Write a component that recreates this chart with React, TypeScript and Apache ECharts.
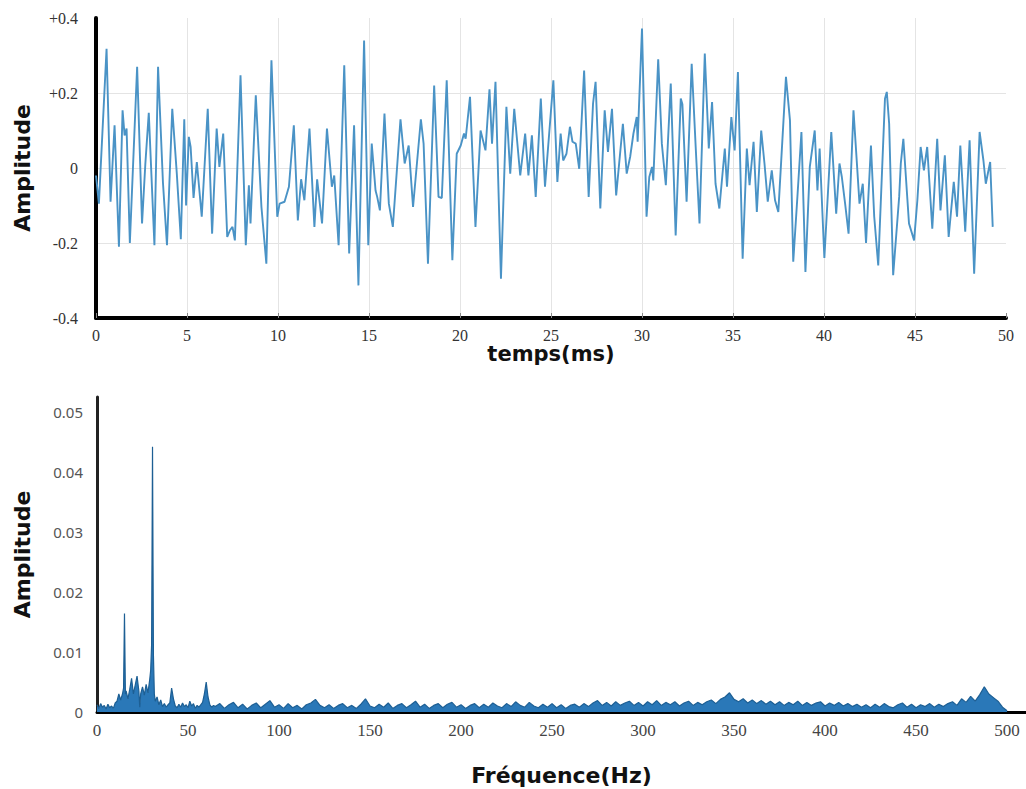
import React, { useEffect, useRef } from "react";
import * as echarts from "echarts";

// ---- Time signal (top panel) ----
const timeMs = [
  0, 0.16, 0.58, 0.8, 1.02, 1.26, 1.46, 1.57, 1.68, 1.86, 2.26, 2.53, 2.71, 2.9, 3.21, 3.41, 3.68, 3.9, 4.19, 4.44,
  4.66, 4.85, 4.95, 5.1, 5.2, 5.36, 5.54, 5.81, 6.14, 6.38, 6.63, 6.78, 6.99, 7.21, 7.36, 7.5, 7.63, 7.94, 8.23, 8.4,
  8.49, 8.78, 9.09, 9.36, 9.64, 9.96,
  10.09, 10.36, 10.6, 10.87, 11.09, 11.27, 11.45, 11.73, 12.0, 12.15, 12.42, 12.69, 12.96, 13.09, 13.33, 13.64, 13.91,
  14.18, 14.42, 14.73, 14.96, 15.15, 15.36, 15.45, 15.6, 15.85, 16.09, 16.31, 16.73, 16.96, 17.18, 17.42, 17.85, 18.0,
  18.24, 18.58, 18.82, 19.0, 19.27, 19.58, 19.82, 20.04,
  20.22, 20.31, 20.55, 20.85, 21.13, 21.4, 21.62, 21.76, 21.95, 22.25, 22.55, 22.76, 22.98, 23.31, 23.58, 23.76, 23.95,
  24.16, 24.44, 24.67, 25.13, 25.35, 25.53, 25.67, 25.85, 26.04, 26.18, 26.36, 26.55, 26.82, 27.07, 27.31, 27.45, 27.71,
  27.95, 28.13, 28.35, 28.58, 28.95, 29.16, 29.35, 29.53, 29.71, 29.76, 30.0,
  30.25, 30.4, 30.55, 30.62, 30.89, 31.09, 31.31, 31.58, 31.85, 32.13, 32.22, 32.45, 32.73, 32.95, 33.16, 33.45, 33.67,
  33.85, 34.04, 34.25, 34.55, 34.67, 34.91, 35.09, 35.27, 35.53, 35.76, 35.91, 36.13, 36.31, 36.55, 36.73, 36.91, 37.13,
  37.31, 37.49, 37.91, 38.13, 38.31, 38.55, 38.76, 38.98, 39.22, 39.49, 39.64, 39.76, 40.02,
  40.4, 40.67, 40.85, 40.98, 41.16, 41.35, 41.62, 41.95, 42.13, 42.31, 42.58, 42.76, 42.98, 43.35, 43.45, 43.58, 43.8,
  44.13, 44.22, 44.36, 44.67, 44.95, 45.13, 45.31, 45.49, 45.67, 45.95, 46.22, 46.4, 46.64, 46.85, 47.13, 47.31, 47.49,
  47.76, 48.0, 48.25, 48.55, 48.76, 48.89, 49.13, 49.27,
];
const signal = [
  -0.02, -0.095, 0.318, -0.09, 0.114, -0.21, 0.154, 0.087, 0.105, -0.2, 0.27, -0.148, 0.01, 0.147, -0.206, 0.27, -0.04,
  -0.206, 0.158, -0.015, -0.19, 0.13, -0.1, 0.083, 0.056, -0.08, 0.016, -0.13, 0.158, -0.175, 0.105, 0.003, 0.092,
  -0.184, -0.166, -0.157, -0.193, 0.247, -0.206, -0.046, -0.148, 0.194, -0.104, -0.255, 0.287, -0.13,
  -0.095, -0.09, -0.05, 0.114, -0.14, -0.03, -0.086, 0.105, -0.157, -0.03, -0.148, 0.105, -0.05, -0.02, -0.206, 0.274,
  -0.228, 0.114, -0.313, 0.34, -0.206, 0.065, -0.06, -0.077, -0.113, 0.145, -0.095, -0.157, 0.13, 0.012, 0.06, -0.104,
  0.13, 0.065, -0.255, 0.22, -0.077, -0.08, 0.234, -0.246, 0.038, 0.06,
  0.092, 0.078, 0.19, -0.157, 0.1, 0.047, 0.21, 0.065, 0.23, -0.295, 0.163, -0.015, 0.158, -0.02, 0.092, -0.02, 0.087,
  -0.077, 0.185, -0.05, 0.234, -0.037, 0.092, 0.02, 0.038, 0.11, 0.07, 0.065, -0.002, 0.26, -0.077, 0.172, 0.23, -0.108,
  0.154, 0.043, 0.158, -0.073, 0.118, -0.015, 0.03, 0.092, 0.136, 0.07, 0.372,
  -0.13, -0.024, 0.003, -0.033, 0.29, 0.065, -0.046, 0.225, -0.18, 0.185, 0.17, -0.09, 0.278, 0.056, -0.148, 0.305,
  0.052, 0.176, -0.042, -0.108, 0.052, -0.05, 0.136, 0.047, 0.256, -0.242, 0.052, -0.046, 0.07, -0.117, 0.1, 0.012,
  -0.09, -0.006, -0.086, -0.117, 0.243, 0.127, -0.25, -0.068, 0.096, -0.277, 0.003, 0.1, -0.06, 0.052, -0.24,
  0.096, -0.122, 0.012, -0.024, -0.095, -0.175, 0.154, -0.095, -0.042, -0.2, 0.06, -0.13, -0.26, 0.185, 0.203, 0.118,
  -0.286, -0.077, 0.012, 0.078, -0.148, -0.193, -0.086, 0.056, -0.006, 0.056, -0.162, 0.078, -0.113, 0.034, -0.184,
  -0.037, -0.13, 0.06, -0.17, 0.074, -0.282, 0.096, 0.02, -0.042, 0.016, -0.157,
];
const timeTicks = ["0", "5", "10", "15", "20", "25", "30", "35", "40", "45", "50"];

// ---- Spectrum (bottom panel) ----
const specFreqLow = [
  0, 1, 2, 3, 4, 5, 6, 7, 8, 9, 10, 11, 12, 13, 14, 14.6, 15.1, 15.6, 16, 17, 18, 19, 20, 21, 22, 23, 23.5, 24, 25, 26,
  27, 28, 29, 29.5, 30, 30.5, 31, 31.5, 32, 33, 34, 35, 36, 37, 38, 39, 40, 41, 42, 43, 44, 45, 46, 47, 48, 49, 50, 51,
  52, 53, 54, 55, 56, 57, 58, 59, 60, 61, 62, 63, 64,
];
const specAmpLow = [
  0.0012, 0.0006, 0.0014, 0.0008, 0.0011, 0.0005, 0.0013, 0.0007, 0.001, 0.0006, 0.0015, 0.0018, 0.003, 0.002, 0.003,
  0.004, 0.0164, 0.003, 0.0035, 0.0022, 0.0038, 0.0056, 0.003, 0.0045, 0.006, 0.0035, 0.0008, 0.003, 0.0042, 0.0028,
  0.0046, 0.0032, 0.0055, 0.007, 0.0112, 0.0442, 0.0095, 0.003, 0.0018, 0.0025, 0.0012, 0.002, 0.0009, 0.0014, 0.0008,
  0.0012, 0.0015, 0.004, 0.0022, 0.001, 0.0007, 0.0013, 0.0008, 0.0015, 0.0009, 0.0012, 0.0007, 0.0018, 0.001, 0.0014,
  0.0006, 0.0011, 0.0008, 0.0012, 0.0016, 0.003, 0.005, 0.0025, 0.0012, 0.0008, 0.0011,
];
const specFreqHigh = [
  65, 67.5, 70, 72.5, 75, 77.5, 80, 82.5, 85, 87.5, 90, 92.5, 95, 97.5, 100, 102.5, 105, 107.5, 110, 112.5,
  115, 117.5, 120, 122.5, 125, 127.5, 130, 132.5, 135, 137.5, 140, 142.5, 145, 147.5, 150, 152.5, 155, 157.5, 160, 162.5,
  165, 167.5, 170, 172.5, 175, 177.5, 180, 182.5, 185, 187.5, 190, 192.5, 195, 197.5, 200, 202.5, 205, 207.5, 210, 212.5,
  215, 217.5, 220, 222.5, 225, 227.5, 230, 232.5, 235, 237.5, 240, 242.5, 245, 247.5, 250, 252.5, 255, 257.5, 260, 262.5,
  265, 267.5, 270, 272.5, 275, 277.5, 280, 282.5, 285, 287.5, 290, 292.5, 295, 297.5, 300, 302.5, 305, 307.5, 310, 312.5,
  315, 317.5, 320, 322.5, 325, 327.5, 330, 332.5, 335, 337.5, 340, 342.5, 345, 347.5, 350, 352.5, 355, 357.5, 360, 362.5,
  365, 367.5, 370, 372.5, 375, 377.5, 380, 382.5, 385, 387.5, 390, 392.5, 395, 397.5, 400, 402.5, 405, 407.5, 410, 412.5,
  415, 417.5, 420, 422.5, 425, 427.5, 430, 432.5, 435, 437.5, 440, 442.5, 445, 447.5, 450, 452.5, 455, 457.5, 460, 462.5,
  465, 467.5, 470, 472.5, 475, 477.5, 480, 482.5, 485, 487.5, 490, 492.5, 495, 497.5, 500,
];
const specAmpHigh = [
  0.0009, 0.0014, 0.0006, 0.0012, 0.0016, 0.0007, 0.0013, 0.0005, 0.0011, 0.0015,
  0.0007, 0.0013, 0.0019, 0.0008, 0.0012, 0.0006, 0.0014, 0.0007, 0.0011, 0.0005,
  0.0012, 0.0015, 0.0021, 0.0011, 0.0007, 0.0012, 0.0006, 0.0011, 0.0014, 0.0007,
  0.0011, 0.0006, 0.0013, 0.0022, 0.001, 0.0007, 0.0013, 0.0008, 0.0015, 0.0006,
  0.0011, 0.0014, 0.0007, 0.0012, 0.0018, 0.0008, 0.0013, 0.0006, 0.0011, 0.0014,
  0.0007, 0.0013, 0.0016, 0.0008, 0.0012, 0.0006, 0.0011, 0.0014, 0.0007, 0.0013,
  0.0008, 0.0015, 0.001, 0.0007, 0.0014, 0.0009, 0.0017, 0.0011, 0.0008, 0.0016,
  0.001, 0.0007, 0.0013, 0.0008, 0.0014, 0.0007, 0.0012, 0.0006, 0.0011, 0.0013,
  0.0008, 0.0014, 0.0009, 0.0015, 0.0019, 0.0011, 0.0016, 0.001, 0.0017, 0.0011,
  0.0015, 0.0018, 0.0011, 0.0016, 0.001, 0.0017, 0.0012, 0.0019, 0.0011, 0.0016,
  0.0012, 0.0017, 0.001, 0.0015, 0.0018, 0.0011, 0.0016, 0.0012, 0.0017, 0.002,
  0.0014, 0.0021, 0.0025, 0.0032, 0.0021, 0.0017, 0.0022, 0.0015, 0.002, 0.0014,
  0.0019, 0.0013, 0.0018, 0.0012, 0.0017, 0.0011, 0.0016, 0.0012, 0.0018, 0.0011,
  0.0016, 0.0011, 0.0015, 0.0017, 0.001, 0.0015, 0.0011, 0.0016, 0.001, 0.0014,
  0.0009, 0.0013, 0.0008, 0.0012, 0.0007, 0.0013, 0.0008, 0.0014, 0.0009, 0.0007,
  0.0012, 0.0015, 0.0008, 0.0013, 0.0007, 0.0012, 0.0009, 0.0014, 0.0008, 0.0013,
  0.0009, 0.0014, 0.0017, 0.0011, 0.0022, 0.0016, 0.0026, 0.0018, 0.0029, 0.0042,
  0.003, 0.0024, 0.0018, 0.0008, 0.0002,
];
const freqTicks = ["0", "50", "100", "150", "200", "250", "300", "350", "400", "450", "500"];
const ampTicks = ["0", "0.01", "0.02", "0.03", "0.04", "0.05"];

const titleFont = "DejaVu Sans";
const serifFont = "Liberation Serif";

export default function App() {
  const ref = useRef<HTMLDivElement>(null);
  useEffect(() => {
    if (!ref.current) return;
    const chart = echarts.init(ref.current, undefined, { renderer: "svg" });
    const signalData = timeMs.map((t, i) => [t, signal[i]]);
    const specData = specFreqLow
      .map((f, i) => [f, specAmpLow[i]])
      .concat(specFreqHigh.map((f, i) => [f, specAmpHigh[i]]));
    chart.setOption({
      animation: false,
      backgroundColor: "#ffffff",
      grid: [
        { left: 96, top: 18, width: 910, height: 300 },
        { left: 97, top: 397, width: 929, height: 315 },
      ],
      xAxis: [
        {
          gridIndex: 0,
          type: "value",
          min: 0,
          max: 50,
          interval: 5,
          name: "temps(ms)",
          nameLocation: "middle",
          nameGap: 25,
          nameTextStyle: { fontFamily: titleFont, fontWeight: "bold", fontSize: 21, color: "#111" },
          axisLine: { onZero: false, lineStyle: { color: "#000", width: 4 } },
          axisTick: { show: true, inside: true, length: 5, lineStyle: { color: "#888" } },
          axisLabel: {
            margin: 9,
            fontFamily: serifFont,
            fontSize: 16,
            color: "#333",
            formatter: (v: number) => timeTicks[Math.round(v / 5)] ?? "",
          },
          splitLine: { show: true, showMaxLine: false, lineStyle: { color: "#e4e4e4", width: 1 } },
        },
        {
          gridIndex: 1,
          type: "value",
          min: 0,
          max: 510.4,
          interval: 50,
          name: "Fréquence(Hz)",
          nameLocation: "middle",
          nameGap: 52,
          nameTextStyle: { fontFamily: titleFont, fontWeight: "bold", fontSize: 22, color: "#111" },
          axisLine: { onZero: false, lineStyle: { color: "#000", width: 3 } },
          axisTick: { show: false },
          axisLabel: {
            margin: 10,
            showMaxLabel: false,
            fontFamily: serifFont,
            fontSize: 17,
            color: "#444",
            formatter: (v: number) => (v <= 500 ? freqTicks[Math.round(v / 50)] ?? "" : ""),
          },
          splitLine: { show: false },
        },
      ],
      yAxis: [
        {
          gridIndex: 0,
          type: "value",
          min: -0.4,
          max: 0.4,
          interval: 0.2,
          name: "Amplitude",
          nameLocation: "middle",
          nameGap: 63,
          nameRotate: 90,
          nameTextStyle: { fontFamily: titleFont, fontWeight: "bold", fontSize: 22, color: "#111" },
          axisLine: { show: true, onZero: false, lineStyle: { color: "#000", width: 4 } },
          axisTick: { show: false },
          axisLabel: {
            margin: 18,
            fontFamily: serifFont,
            fontSize: 16,
            color: "#333",
            formatter: (v: number) =>
              Math.abs(v) < 1e-9 ? "0" : v > 0 ? "+" + v.toFixed(1) : v.toFixed(1),
          },
          splitLine: { show: true, showMinLine: false, showMaxLine: false, lineStyle: { color: "#e4e4e4", width: 1 } },
        },
        {
          gridIndex: 1,
          type: "value",
          min: 0,
          max: 0.0525,
          interval: 0.01,
          name: "Amplitude",
          nameLocation: "middle",
          nameGap: 64,
          nameRotate: 90,
          nameTextStyle: { fontFamily: titleFont, fontWeight: "bold", fontSize: 22, color: "#111" },
          axisLine: { show: true, onZero: false, lineStyle: { color: "#222", width: 3 } },
          axisTick: { show: false },
          axisLabel: {
            margin: 14,
            showMaxLabel: false,
            fontFamily: "Noto Sans",
            fontSize: 15,
            color: "#555",
            formatter: (v: number) => (v > 0.0505 ? "" : ampTicks[Math.round(v / 0.01)] ?? ""),
          },
          splitLine: { show: false },
        },
      ],
      series: [
        {
          type: "line",
          xAxisIndex: 0,
          yAxisIndex: 0,
          data: signalData,
          showSymbol: false,
          lineStyle: { color: "#4a93c6", width: 1.9 },
          z: 3,
        },
        {
          type: "line",
          xAxisIndex: 1,
          yAxisIndex: 1,
          data: specData,
          showSymbol: false,
          lineStyle: { color: "#1d5f94", width: 1.2 },
          areaStyle: { color: "#2a78b8", opacity: 1 },
          z: 3,
        },
      ],
    });
    return () => chart.dispose();
  }, []);
  return (
    <div
      ref={ref}
      style={{ position: "absolute", left: 0, top: 0, width: 1026, height: 789, background: "#fff" }}
    />
  );
}
